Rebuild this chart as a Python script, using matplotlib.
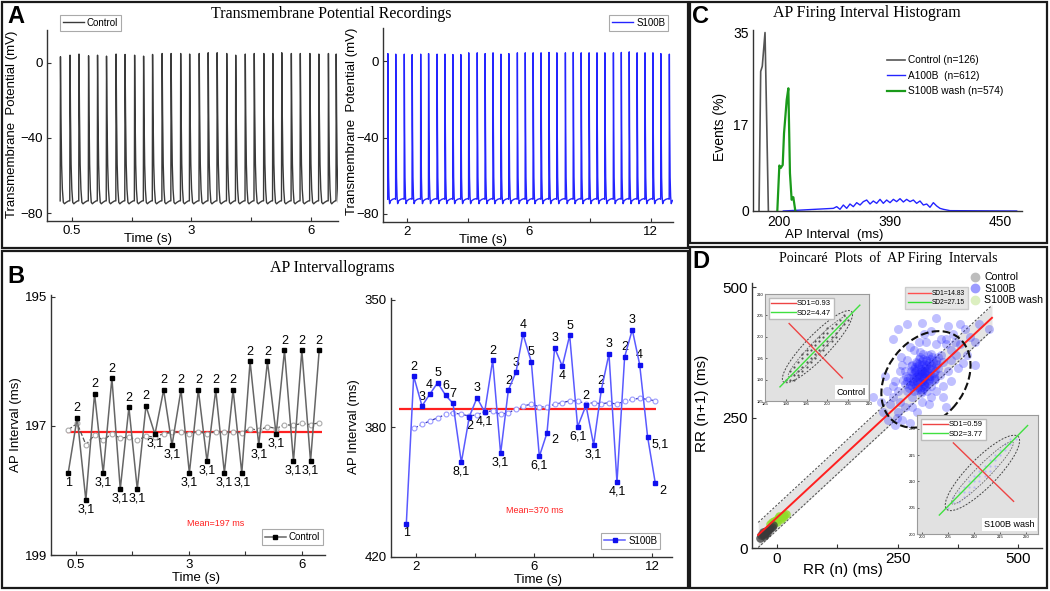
import numpy as np
import matplotlib
matplotlib.use('Agg')
import matplotlib.pyplot as plt
from matplotlib.patches import Rectangle, Ellipse
from matplotlib.lines import Line2D

W, H = 1050, 591

# ---------------- A: transmembrane potential (x in tick steps) ----------------
ctrl_spike_t = [-0.19, -0.03, 0.12, 0.28, 0.43, 0.58, 0.74, 0.89, 1.05, 1.20, 1.35,
                1.51, 1.66, 1.82, 1.97, 2.13, 2.28, 2.43, 2.59, 2.74, 2.90, 3.05,
                3.21, 3.36, 3.51, 3.67, 3.82, 3.98, 4.13, 4.29, 4.42]
ctrl_spike_peak = [3.2, 4.0, 4.6, 3.7, 4.0, 3.5, 4.6, 4.4, 4.0, 3.5, 4.4, 4.9, 4.9,
                   4.9, 4.6, 4.9, 5.3, 5.3, 4.9, 4.0, 4.6, 4.9, 4.9, 4.9, 5.3, 4.9,
                   4.9, 4.9, 4.6, 4.9, 4.6]
ctrl_rest = -73.5
s100b_spike_t = [-0.32, -0.19, -0.05, 0.08, 0.22, 0.35, 0.49, 0.62, 0.75, 0.88, 1.01,
                 1.15, 1.28, 1.41, 1.54, 1.67, 1.81, 1.94, 2.07, 2.20, 2.33, 2.46,
                 2.60, 2.73, 2.86, 2.99, 3.12, 3.25, 3.39, 3.52, 3.65, 3.78, 3.91,
                 4.04, 4.17, 4.31]
s100b_spike_peak = [4.0, 3.7, 3.7, 3.5, 3.7, 4.0, 3.7, 3.7, 3.5, 3.5, 4.4, 4.4, 4.0,
                    4.4, 3.7, 4.0, 4.4, 4.4, 4.4, 4.4, 4.6, 4.4, 4.4, 4.6, 4.4, 4.4,
                    4.4, 4.4, 4.4, 4.6, 4.9, 4.4, 4.4, 4.4, 4.0, 3.7]
s100b_rest = -72.3
a_ctrl_ticklabels = ['0.5', '', '3', '', '6']
a_s100b_ticklabels = ['2', '', '6', '', '12']

# ---------------- B: intervallograms ----------------
ctrl_beat_t = [-0.136, 0.024, 0.177, 0.331, 0.484, 0.638, 0.786, 0.939, 1.087, 1.241,
               1.400, 1.554, 1.702, 1.861, 2.009, 2.168, 2.322, 2.476, 2.629, 2.783,
               2.937, 3.084, 3.238, 3.391, 3.545, 3.693, 3.852, 4.000, 4.154, 4.307]
ctrl_interval = [197.73, 196.87, 198.15, 196.50, 197.73, 196.26, 197.98, 196.71, 197.98,
                 196.69, 197.13, 196.44, 197.30, 196.44, 197.73, 196.44, 197.55, 196.44,
                 197.73, 196.44, 197.73, 196.00, 197.30, 196.00, 197.13, 195.83, 197.55,
                 195.83, 197.55, 195.83]
ctrl_runmean = [197.06, 196.96, 197.29, 197.14, 197.22, 197.12, 197.19, 197.17, 197.22,
                197.16, 197.17, 197.12, 197.10, 197.09, 197.12, 197.09, 197.12, 197.09,
                197.10, 197.09, 197.11, 197.04, 197.07, 197.01, 197.04, 196.98, 196.99,
                196.96, 196.98, 196.95]
ctrl_labels = ['1', '2', '3,1', '2', '3,1', '2', '3,1', '2', '3,1', '2', '3,1', '2', '3,1',
               '2', '3,1', '2', '3,1', '2', '3,1', '2', '3,1', '2', '3,1', '2', '3,1', '2',
               '3,1', '2', '3,1', '2']
ctrl_mean = 197.1

s100b_beat_t = [-0.170, -0.045, 0.096, 0.226, 0.362, 0.498, 0.622, 0.764, 0.900, 1.030,
                1.160, 1.296, 1.431, 1.562, 1.692, 1.810, 1.952, 2.088, 2.218, 2.348,
                2.478, 2.603, 2.738, 2.880, 3.010, 3.140, 3.270, 3.406, 3.536, 3.666,
                3.791, 3.926, 4.057]
s100b_interval = [410.97, 370.77, 378.90, 375.74, 372.58, 376.01, 378.18, 394.26, 381.79,
                  376.64, 380.53, 366.44, 391.82, 374.57, 369.69, 359.30, 366.89, 392.63,
                  386.22, 363.10, 368.06, 359.66, 384.59, 378.72, 389.47, 374.57, 364.72,
                  399.68, 365.53, 358.13, 367.61, 387.30, 399.95]
s100b_runmean = [385.0, 383.9, 383.0, 382.1, 381.2, 380.7, 381.2, 381.6, 381.3, 380.4,
                 380.3, 381.2, 380.7, 379.8, 378.9, 378.4, 379.1, 379.2, 378.4, 378.0,
                 377.5, 377.5, 378.3, 378.0, 378.3, 378.0, 378.4, 377.5, 377.1, 376.8,
                 377.1, 377.5]
s100b_labels = ['1', '2', '3', '4', '5', '6', '7', '8,1', '2', '3', '4,1', '2', '3,1', '2',
                '3', '4', '5', '6,1', '2', '3', '4', '5', '6,1', '2', '3,1', '2', '3',
                '4,1', '2', '3', '4', '5,1', '2']
s100b_mean = 379.8
b_s100b_yticks = [350, 384.7, 420]
b_s100b_yticklabels = ['350', '380', '420']

# ---------------- C: interval histogram ----------------
hist_ctrl_x = [177.4, 179.3, 181.1, 184.2, 188.0]
hist_ctrl_y = [0, 27.3, 28.3, 34.9, 0]
hist_wash_x = [198.1, 200.4, 201.9, 204.2, 205.7, 208.7, 210.6, 212.4, 214.3, 216.2, 218.5]
hist_wash_y = [0, 8.9, 8.4, 9.0, 15.2, 21.7, 24.0, 7.4, 2.2, 2.7, 0]
hist_s100b_x = [204.9, 261.5, 265.3, 269.0, 272.8, 276.6, 280.3, 284.1, 287.9, 291.7,
                295.4, 299.2, 303.0, 306.7, 310.5, 314.3, 318.0, 321.8, 325.6, 329.4,
                333.1, 336.9, 340.7, 344.4, 348.2, 352.0, 355.7, 359.5, 363.3, 367.1,
                370.8, 374.6, 378.4, 382.1, 385.9, 389.7, 393.4, 468.9]
hist_s100b_y = [0, 0.52, 0.85, 0.33, 1.17, 0.52, 1.37, 0.85, 1.63, 1.17, 1.83, 2.15, 1.37,
                1.96, 1.5, 2.28, 1.5, 2.15, 1.63, 2.28, 1.83, 2.41, 1.76, 2.28, 1.83, 2.15,
                1.5, 1.96, 1.17, 1.37, 0.72, 1.63, 0.98, 0.52, 0.33, 0.2, 0.07, 0]
c_xticks = [200, 325.6, 450]
c_xticklabels = ['200', '390', '450']

# ---------------- D: Poincare plot ----------------
rr_s100b_x = [300, 310, 290, 320, 280, 305, 315, 295, 285, 325, 330, 270, 300, 310, 290,
              275, 335, 320, 300, 285, 265, 340, 312, 296, 306, 288, 318, 326, 278, 302,
              292, 282, 332, 314, 268, 344, 322, 298, 308, 286, 274, 316, 328, 294, 304,
              338, 262, 280, 312, 296,
              295, 305, 285, 315, 300, 290, 310, 280, 320, 300, 270, 330, 288, 312, 296,
              304, 276, 324, 292, 308, 284, 316, 300, 290, 310, 298, 302, 282, 318, 306,
              294, 286, 314, 322, 278, 326, 300, 292, 308, 296, 266, 334, 272, 328, 288,
              312, 304, 296, 280, 320, 300, 310, 290, 284, 316, 302, 298, 306, 294, 288,
              250, 255, 260, 245, 350, 360, 355, 345, 330, 240, 250, 265, 280, 300, 320,
              350, 330, 310, 285, 270, 255, 240, 360, 370, 340, 365, 295, 275, 235, 248,
              260, 290, 315, 345, 372, 380, 258, 228, 305, 320,
              220, 230, 215, 390, 400, 410, 395, 375, 360, 270, 330, 300, 250, 240, 225,
              200, 380, 420, 440, 410, 350, 275, 245, 385, 355]
rr_s100b_y = [330, 340, 320, 350, 310, 315, 325, 345, 335, 335, 360, 300, 300, 360, 355,
              325, 345, 310, 350, 300, 315, 370, 332, 318, 344, 328, 342, 322, 340, 362,
              308, 318, 352, 370, 330, 356, 366, 338, 322, 346, 306, 354, 340, 362, 306,
              332, 322, 290, 300, 376,
              325, 335, 315, 345, 340, 330, 350, 320, 330, 320, 320, 350, 340, 338, 328,
              352, 312, 356, 348, 310, 326, 330, 336, 318, 346, 342, 324, 334, 362, 312,
              352, 340, 316, 344, 348, 328, 358, 332, 336, 304, 340, 366, 326, 324, 312,
              358, 340, 366, 350, 372, 308, 318, 302, 342, 322, 372, 296, 328, 334, 356,
              300, 280, 350, 320, 390, 380, 340, 310, 300, 290, 260, 270, 270, 280, 290,
              400, 390, 395, 380, 360, 340, 310, 360, 395, 400, 410, 395, 385, 275, 250,
              245, 260, 275, 290, 370, 390, 365, 300, 410, 415,
              260, 245, 280, 420, 405, 395, 370, 345, 320, 430, 440, 432, 420, 400, 330,
              290, 430, 430, 420, 350, 270, 240, 235, 355, 425]
rr_ctrl_x = [-36, -33, -30, -28, -25, -22, -20, -17, -14, -11, -8, -30, -24, -18]
rr_ctrl_y = [20, 24, 27, 23, 30, 33, 28, 36, 38, 41, 44, 31, 26, 34]
rr_wash_x = [-14, -10, -6, -2, 2, 6, 10, 14, 18, -8, 0, 8, 12, 4]
rr_wash_y = [46, 49, 52, 54, 57, 59, 62, 64, 66, 46, 50, 56, 60, 62]
d_identity = ([-39, 446], [25, 441])
d_band_half = 24
d_ellipse = (309, 323, 210, 156)          # cx, cy, width, height

# insets (Control and S100B wash)
in_ctrl_x = [190, 191, 191, 192, 192, 192, 193, 193, 193, 194, 194, 194, 194, 195, 195, 195,
             195, 196, 196, 196, 196, 197, 197, 197, 197, 198, 198, 198, 198, 199, 199, 199,
             199, 200, 200, 200, 200, 201, 201, 201, 202, 202, 202, 203, 203, 204, 204, 205]
in_ctrl_y = [190, 190, 192, 191, 193, 190, 192, 194, 191, 193, 195, 192, 196, 194, 196, 193,
             197, 195, 197, 194, 198, 196, 198, 195, 199, 197, 199, 196, 200, 198, 200, 197,
             201, 199, 201, 198, 202, 200, 202, 199, 201, 203, 200, 202, 204, 203, 205, 204]
in_ctrl_sd2 = ([188.6, 207.8], [188.3, 207.4])
in_ctrl_sd1 = ([190.8, 203.6], [203.1, 190.4])
in_ctrl_ell = (197.6, 197.7, 23.2, 5.6)
in_wash_x = [205, 206, 206, 207, 207, 208, 208, 208, 209, 209, 209, 210, 210, 210, 211, 211,
             211, 212, 212, 212, 213, 213, 213, 214, 214, 214, 215, 215, 216, 216, 217, 217, 218]
in_wash_y = [205, 206, 207, 206, 208, 207, 209, 208, 209, 210, 208, 210, 211, 209, 211, 212,
             210, 212, 213, 211, 213, 214, 212, 214, 215, 213, 215, 216, 216, 217, 217, 218, 218]
in_wash_sd2 = ([203.3, 220.3], [203.6, 220.6])
in_wash_sd1 = ([206.0, 217.6], [217.3, 206.2])
in_wash_ell = (211.6, 211.6, 19.5, 5.5)


# ---------------- helpers ----------------
plt.rcParams['font.family'] = ['Liberation Sans', 'DejaVu Sans']
SERIF = 'Liberation Serif'

RED = '#ff2020'
BLUE = '#2424ff'
GREEN = '#1a9a1a'


def axes_px(fig, x0, y0, x1, y1):
    '''add axes from pixel box (top-left origin)'''
    return fig.add_axes([x0 / W, 1 - y1 / H, (x1 - x0) / W, (y1 - y0) / H])


def fig_text(fig, x, y, s, **kw):
    return fig.text(x / W, 1 - y / H, s, **kw)


def style(ax, fs=9):
    for s in ('top', 'right'):
        ax.spines[s].set_visible(False)
    for s in ('left', 'bottom'):
        ax.spines[s].set_color('#333333')
        ax.spines[s].set_linewidth(1.0)
    ax.tick_params(direction='in', length=3, width=0.8, labelsize=fs, pad=3, colors='#333333',
                   labelcolor='black')
    ax.patch.set_alpha(0)


def spike_train(times, peaks, rest, phase, frac):
    '''build an AP trace from spike times/peaks and a waveform template'''
    times = np.asarray(times, float)
    gaps = np.diff(times)
    gaps = np.append(gaps, gaps[-1])
    xs, ys = [], []
    for t, p, g in zip(times, peaks, gaps):
        xs.append(t + np.asarray(phase) * g)
        ys.append(rest + np.asarray(frac) * (p - rest))
    return np.concatenate(xs), np.concatenate(ys)


def label_beats(ax, xs, ys, labels, where, fs):
    offs = {'a': (0, 2.5, 'center', 'bottom'), 'b': (0, -2.5, 'center', 'top'),
            'r': (3, -1, 'left', 'top')}
    for x, y, lab, w in zip(xs, ys, labels, where):
        dx, dy, ha, va = offs[w]
        ax.annotate(lab, (x, y), xytext=(dx, dy), textcoords='offset points', ha=ha, va=va,
                    fontsize=fs)


def small_legend(ax, handles, labels, loc, anchor, fs):
    leg = ax.legend(handles, labels, loc=loc, bbox_to_anchor=anchor, fontsize=fs,
                    handlelength=2.2, handletextpad=0.3, borderpad=0.3, fancybox=False,
                    framealpha=1, edgecolor='#aaaaaa')
    leg.get_frame().set_linewidth(0.8)
    return leg


fig = plt.figure(figsize=(W / 100, H / 100), dpi=100)

# panel frames
for x0, y0, x1, y1 in [(2, 2, 688, 248), (2, 251, 688, 588), (690, 2, 1047, 243),
                       (690, 247, 1047, 588)]:
    fig.add_artist(Rectangle((x0 / W, 1 - y1 / H), (x1 - x0) / W, (y1 - y0) / H,
                             transform=fig.transFigure, fill=False, lw=1.6, ec='#1a1a1a'))

for lab, x, y in [('A', 7, 5), ('B', 7, 265), ('C', 692, 5), ('D', 692, 250)]:
    fig_text(fig, x, y, lab, fontsize=17, fontweight='bold', va='top', ha='left')

# ---------------- A ----------------
fig_text(fig, 331, 14, 'Transmembrane Potential Recordings', family=SERIF, fontsize=11.5,
         ha='center', va='center')

axA1 = axes_px(fig, 47, 30, 338, 221)
x, y = spike_train(ctrl_spike_t, ctrl_spike_peak, ctrl_rest,
                   [-0.03, 0.0, 0.05, 0.12, 0.2, 0.3, 0.42, 0.6, 0.85],
                   [0.0, 1.0, 0.6, 0.25, 0.08, -0.01, -0.02, -0.01, 0.0])
lc, = axA1.plot(x, y, color='#3a3a3a', lw=1.0)
axA1.set_xlim(-0.415, 4.45)
axA1.set_ylim(-84.2, 17.4)
axA1.set_yticks([0, -40, -80])
axA1.set_xticks(range(5))
axA1.set_xticklabels(a_ctrl_ticklabels)
style(axA1, 9.5)
axA1.set_ylabel('Transmembrane  Potential (mV)', fontsize=9.5)
axA1.yaxis.set_label_coords(-0.1, 0.508)
axA1.set_xlabel('Time (s)', fontsize=9.5)
axA1.xaxis.set_label_coords(0.347, -0.063)
small_legend(axA1, [lc], ['Control'], 'upper left', (0.027, 1.105), 7)

axA2 = axes_px(fig, 383, 28, 673, 222)
x, y = spike_train(s100b_spike_t, s100b_spike_peak, s100b_rest,
                   [-0.02, 0.0, 0.04, 0.09, 0.15, 0.22, 0.35, 0.6, 0.9],
                   [0.0, 1.0, 0.5, 0.15, 0.02, -0.03, -0.01, 0.0, 0.005])
ls_, = axA2.plot(x, y, color=BLUE, lw=1.0)
axA2.set_xlim(-0.40, 4.37)
axA2.set_ylim(-84.2, 17.4)
axA2.set_yticks([0, -40, -80])
axA2.set_xticks(range(5))
axA2.set_xticklabels(a_s100b_ticklabels)
style(axA2, 9.5)
axA2.set_ylabel('Transmembrane  Potential (mV)', fontsize=9.5)
axA2.yaxis.set_label_coords(-0.086, 0.52)
axA2.set_xlabel('Time (s)', fontsize=9.5)
axA2.xaxis.set_label_coords(0.345, -0.063)
small_legend(axA2, [ls_], ['S100B'], 'upper right', (1.0, 1.093), 7)

# ---------------- B ----------------
fig_text(fig, 332, 268, 'AP Intervallograms', family=SERIF, fontsize=11.5, ha='center',
         va='center')

axB1 = axes_px(fig, 51, 295, 325, 555)
axB1.hlines(ctrl_mean, -0.165, 4.355, color=RED, lw=1.6, zorder=2)
axB1.plot(ctrl_beat_t, ctrl_runmean, ls='--', color='#555555', lw=0.9, marker='o', ms=3.5,
          mfc='white', mec='#aaaaaa', mew=0.8, zorder=3)
lb1, = axB1.plot(ctrl_beat_t, ctrl_interval, color='#666666', lw=1.1, marker='s', ms=3.5,
                 mfc='black', mec='black', zorder=4)
axB1.set_xlim(-0.44, 4.41)
axB1.set_ylim(198.95, 194.97)
axB1.set_yticks([195, 197, 199])
axB1.set_xticks(range(5))
axB1.set_xticklabels(a_ctrl_ticklabels)
style(axB1, 9.5)
axB1.set_ylabel('AP Interval (ms)', fontsize=9.5)
axB1.yaxis.set_label_coords(-0.106, 0.5)
axB1.set_xlabel('Time (s)', fontsize=9.5)
axB1.xaxis.set_label_coords(0.53, -0.065)
ctrl_where = ['b'] + ['a', 'b'] * 14 + ['a']
label_beats(axB1, ctrl_beat_t, ctrl_interval, ctrl_labels, ctrl_where, 9)
axB1.text(0.599, 0.123, 'Mean=197 ms', transform=axB1.transAxes, color=RED, ha='center',
          va='center', fontsize=6.5)
small_legend(axB1, [lb1], ['Control'], 'upper right', (1.011, 0.117), 7)

axB2 = axes_px(fig, 391, 298, 672, 557)
axB2.hlines(s100b_mean, -0.30, 4.07, color=RED, lw=1.6, zorder=2)
axB2.plot(s100b_beat_t[1:], s100b_runmean, ls='--', color='#3333bb', lw=0.9, marker='o',
          ms=3.5, mfc='white', mec='#9a9aff', mew=0.8, zorder=3)
lb2, = axB2.plot(s100b_beat_t, s100b_interval, color='#5a5aff', lw=1.1, marker='s', ms=3.5,
                 mfc='#1010ee', mec='#1010ee', zorder=4)
axB2.set_xlim(-0.43, 4.34)
axB2.set_ylim(419.6, 349.5)
axB2.set_yticks(b_s100b_yticks)
axB2.set_yticklabels(b_s100b_yticklabels)
axB2.set_xticks(range(5))
axB2.set_xticklabels(a_s100b_ticklabels)
style(axB2, 9.5)
axB2.set_ylabel('AP Interval (ms)', fontsize=9.5)
axB2.yaxis.set_label_coords(-0.110, 0.502)
axB2.set_xlabel('Time (s)', fontsize=9.5)
axB2.xaxis.set_label_coords(0.523, -0.066)
s100b_where = ['b', 'a', 'a', 'a', 'a', 'a', 'a', 'b', 'b', 'a', 'b', 'a', 'b', 'a', 'a',
               'a', 'a', 'b', 'r', 'a', 'b', 'a', 'b', 'a', 'b', 'a', 'a', 'b', 'a', 'a',
               'a', 'r', 'r']
label_beats(axB2, s100b_beat_t, s100b_interval, s100b_labels, s100b_where, 9)
axB2.text(0.512, 0.178, 'Mean=370 ms', transform=axB2.transAxes, color=RED, ha='center',
          va='center', fontsize=6.5)
small_legend(axB2, [lb2], ['S100B'], 'upper right', (0.975, 0.112), 7)

# ---------------- C ----------------
fig_text(fig, 867, 13, 'AP Firing Interval Histogram', family=SERIF, fontsize=11.5,
         ha='center', va='center')
axC = axes_px(fig, 753, 30, 1022, 211)
axC.plot([188.0, 472.0], [0, 0], color='#888888', lw=0.8, ls=(0, (3, 2)))
hc, = axC.plot(hist_ctrl_x, hist_ctrl_y, color='#555555', lw=1.2)
hs, = axC.plot(hist_s100b_x, hist_s100b_y, color=BLUE, lw=1.0)
hw, = axC.plot(hist_wash_x, hist_wash_y, color=GREEN, lw=1.6)
axC.set_xlim(170.6, 474.9)
axC.set_ylim(0, 35.4)
axC.set_yticks([0, 17, 35])
axC.set_xticks(c_xticks)
axC.set_xticklabels(c_xticklabels)
style(axC, 10)
axC.tick_params(length=0)
axC.set_ylabel('Events (%)', fontsize=10)
axC.yaxis.set_label_coords(-0.097, 0.464)
axC.set_xlabel('AP Interval  (ms)', fontsize=9.5)
axC.xaxis.set_label_coords(0.30, -0.1)
legC = axC.legend([hc, hs, hw], ['Control (n=126)', 'A100B  (n=612)', 'S100B wash (n=574)'],
                  loc='upper left', bbox_to_anchor=((882 - 753) / 269, (211 - 50) / 181),
                  frameon=False, handlelength=1.8, handletextpad=0.3, labelspacing=0.55,
                  borderpad=0, fontsize=7.3)

# ---------------- D ----------------
fig_text(fig, 888, 258, 'Poincaré  Plots  of  AP Firing  Intervals', family=SERIF,
         fontsize=10, ha='center', va='center')
axD = axes_px(fig, 752, 283, 1042, 548)
bx = np.array(d_identity[0], float)
by = np.array(d_identity[1], float)
axD.fill_between(bx, by - d_band_half, by + d_band_half, color='#e4e4e4', lw=0, zorder=1)
for s in (-1, 1):
    axD.plot(bx, by + s * d_band_half, ls=(0, (2, 1.5)), color='#555555', lw=0.8, zorder=2)
axD.scatter(rr_s100b_x, rr_s100b_y, s=42, color='#2020ff', alpha=0.28, lw=0, zorder=3)
axD.scatter(rr_wash_x, rr_wash_y, s=38, color='#8fdc2a', alpha=0.8, lw=0, zorder=3)
axD.scatter(rr_ctrl_x, rr_ctrl_y, s=38, color='#3a3a3a', alpha=0.75, lw=0, zorder=3)
axD.plot(bx, by, color=RED, lw=1.4, zorder=4)
cx, cy, ew, eh = d_ellipse
axD.add_patch(Ellipse((cx, cy), ew, eh, angle=45, fill=False, ls='--', lw=1.5,
                      ec='#111111', zorder=5))
axD.set_xlim(-51.9, 549.8)
axD.set_ylim(0, 507.7)
axD.set_xticks([0, 250, 500])
axD.set_xticks([125, 375], minor=True)
axD.set_yticks([0, 250, 500])
style(axD, 11)
axD.tick_params(which='minor', direction='in', length=3, width=0.8, colors='#333333')
axD.set_ylabel('RR (n+1) (ms)', fontsize=11)
axD.yaxis.set_label_coords(-0.148, 0.547)
axD.set_xlabel('RR (n) (ms)', fontsize=11)
axD.xaxis.set_label_coords(0.314, -0.057)
mk = dict(marker='o', ls='', ms=6)
fig.legend([Line2D([], [], color='#bdbdbd', **mk), Line2D([], [], color='#9c9cff', **mk),
            Line2D([], [], color='#dcefc0', **mk)], ['Control', 'S100B', 'S100B wash'],
           loc='upper left', bbox_to_anchor=(964 / W, 1 - 267 / H), frameon=False,
           fontsize=7.6, handlelength=1.0, handletextpad=0.4, labelspacing=0.15, borderpad=0)
legSD = fig.legend([Line2D([], [], color='#ff5050', lw=1), Line2D([], [], color='#30e030', lw=1)],
                   ['SD1=14.83', 'SD2=27.15'], loc='upper left',
                   bbox_to_anchor=(902 / W, 1 - 284 / H), fontsize=4.8, handlelength=3.4,
                   handletextpad=0.2, labelspacing=0.3, borderpad=0.4, fancybox=False,
                   facecolor='#e6e6e6', edgecolor='#cccccc', framealpha=1)


def inset(box, xs, ys, sd1, sd2, ell, lims, ticks, sdtxt, name, dotcolor):
    ax = axes_px(fig, *box)
    ax.set_facecolor('#e1e1e1')
    ax.scatter(xs, ys, s=2.5, color=dotcolor, lw=0, zorder=2)
    ecx, ecy, ew_, eh_ = ell
    ax.add_patch(Ellipse((ecx, ecy), ew_, eh_, angle=45, fill=False, ls=(0, (2, 1.5)),
                         lw=0.7, ec='#444444', zorder=3))
    ax.add_patch(Ellipse((ecx, ecy), ew_ * 0.85, eh_ * 0.5, angle=45, fill=False,
                         ls=(0, (2, 1.5)), lw=0.6, ec='#666666', zorder=3))
    h2, = ax.plot(*sd2, color='#40e040', lw=1.0, zorder=4)
    h1, = ax.plot(*sd1, color='#ee4444', lw=1.0, zorder=4)
    ax.set_xlim(*lims[0])
    ax.set_ylim(*lims[1])
    ax.set_xticks(ticks[0])
    ax.set_yticks(ticks[1])
    ax.tick_params(labelsize=3, length=1.2, width=0.4, pad=1, direction='in')
    for s in ax.spines.values():
        s.set_color('#9a9a9a')
        s.set_linewidth(0.8)
    ax.legend([h1, h2], sdtxt, loc='upper left', fontsize=5.5, handlelength=3.2,
              handletextpad=0.2, labelspacing=0.25, borderpad=0.3, fancybox=False,
              framealpha=1, edgecolor='#bbbbbb', facecolor='white')
    ax.text(0.97, 0.04, name, transform=ax.transAxes, ha='right', va='bottom', fontsize=6.5,
            bbox=dict(boxstyle='square,pad=0.25', fc='white', ec='none'))
    return ax


inset((765, 294, 869, 401), in_ctrl_x, in_ctrl_y, in_ctrl_sd1, in_ctrl_sd2, in_ctrl_ell,
      ((185, 210), (185, 210)), ([185, 190, 195, 200, 205, 210], [185, 190, 195, 200, 205, 210]),
      ['SD1=0.93', 'SD2=4.47'], 'Control', '#555555')
inset((917, 415, 1038, 534), in_wash_x, in_wash_y, in_wash_sd1, in_wash_sd2, in_wash_ell,
      ((199, 222.3), (200, 222.6)), ([200, 205, 210, 215, 220], [200, 205, 210, 215, 220]),
      ['SD1=0.59', 'SD2=3.77'], 'S100B wash', '#b8b8f4')

fig.savefig('out.png', dpi=100)
